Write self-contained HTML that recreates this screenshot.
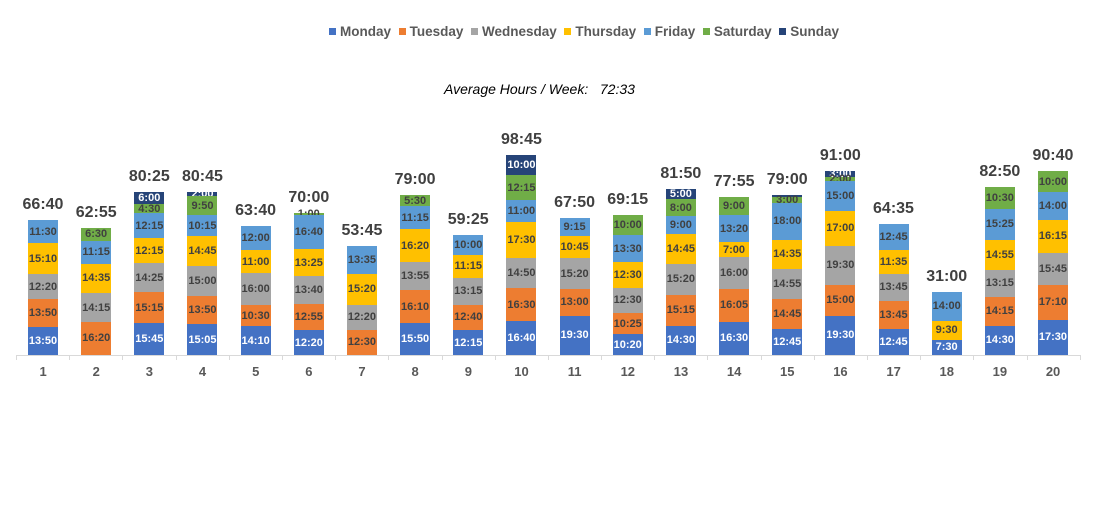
<!DOCTYPE html>
<html><head><meta charset="utf-8"><style>
body{margin:0;width:1094px;height:531px;background:#fff;position:relative;overflow:hidden;font-family:"Liberation Sans",Arial,sans-serif}
#leg{position:absolute;left:329px;top:24px;width:510px;display:flex;justify-content:space-between;font-size:13.5px;font-weight:bold;color:#595959;white-space:nowrap}
#leg span::before{content:"";display:inline-block;width:7px;height:7px;background:var(--c);margin-right:4px;vertical-align:1px}
#sub{position:absolute;left:444px;top:81px;font-size:14px;font-style:italic;color:#000;white-space:pre}
#plot{position:absolute;left:16.5px;width:1063.2px;top:0;height:355px;display:flex}
.c{width:53.16px;position:relative}
.b{position:absolute;left:11.5px;width:30px;bottom:0;display:flex;flex-direction:column-reverse}
.b i{display:flex;align-items:center;justify-content:center;font-style:normal;font-size:11px;font-weight:bold;color:#404040;overflow:visible;white-space:nowrap;line-height:0}
.t{position:absolute;left:-12px;width:78px;text-align:center;font-size:16px;font-weight:bold;color:#404040;bottom:100%;margin-bottom:5px}
.M{background:#4472C4;color:#fff!important}.T{background:#ED7D31}.W{background:#A5A5A5}.H{background:#FFC000}.F{background:#5B9BD5}.S{background:#70AD47}.U{background:#264478;color:#fff!important}
#axis{position:absolute;left:16px;top:355px;width:1064px;height:1px;background:#d9d9d9}
.tk{position:absolute;top:355px;width:1px;height:5px;background:#d9d9d9}
#xl{position:absolute;left:16.5px;top:364px;width:1063.2px;display:flex}
#xl div{width:53.16px;text-align:center;font-size:13px;font-weight:bold;color:#595959}
</style></head><body>
<div id="leg"><span style="--c:#4472C4">Monday</span><span style="--c:#ED7D31">Tuesday</span><span style="--c:#A5A5A5">Wednesday</span><span style="--c:#FFC000">Thursday</span><span style="--c:#5B9BD5">Friday</span><span style="--c:#70AD47">Saturday</span><span style="--c:#264478">Sunday</span></div>
<div id="sub">Average Hours / Week:   72:33</div>
<div id="axis"></div>
<div id="ticks"></div>
<div id="plot" style="--k:0.03375px">
<div class="c"><div class="b"><i class="M" style="height:calc(830*var(--k))">13:50</i><i class="T" style="height:calc(830*var(--k))">13:50</i><i class="W" style="height:calc(740*var(--k))">12:20</i><i class="H" style="height:calc(910*var(--k))">15:10</i><i class="F" style="height:calc(690*var(--k))">11:30</i><div class="t" style="position:static;margin:0 -24px 6px;width:78px">66:40</div></div></div>
<div class="c"><div class="b"><i class="T" style="height:calc(980*var(--k))">16:20</i><i class="W" style="height:calc(855*var(--k))">14:15</i><i class="H" style="height:calc(875*var(--k))">14:35</i><i class="F" style="height:calc(675*var(--k))">11:15</i><i class="S" style="height:calc(390*var(--k))">6:30</i><div class="t" style="position:static;margin:0 -24px 6px;width:78px">62:55</div></div></div>
<div class="c"><div class="b"><i class="M" style="height:calc(945*var(--k))">15:45</i><i class="T" style="height:calc(915*var(--k))">15:15</i><i class="W" style="height:calc(865*var(--k))">14:25</i><i class="H" style="height:calc(735*var(--k))">12:15</i><i class="F" style="height:calc(735*var(--k))">12:15</i><i class="S" style="height:calc(270*var(--k))">4:30</i><i class="U" style="height:calc(360*var(--k))">6:00</i><div class="t" style="position:static;margin:0 -24px 6px;width:78px">80:25</div></div></div>
<div class="c"><div class="b"><i class="M" style="height:calc(905*var(--k))">15:05</i><i class="T" style="height:calc(830*var(--k))">13:50</i><i class="W" style="height:calc(900*var(--k))">15:00</i><i class="H" style="height:calc(885*var(--k))">14:45</i><i class="F" style="height:calc(615*var(--k))">10:15</i><i class="S" style="height:calc(590*var(--k))">9:50</i><i class="U" style="height:calc(120*var(--k))">2:00</i><div class="t" style="position:static;margin:0 -24px 6px;width:78px">80:45</div></div></div>
<div class="c"><div class="b"><i class="M" style="height:calc(850*var(--k))">14:10</i><i class="T" style="height:calc(630*var(--k))">10:30</i><i class="W" style="height:calc(960*var(--k))">16:00</i><i class="H" style="height:calc(660*var(--k))">11:00</i><i class="F" style="height:calc(720*var(--k))">12:00</i><div class="t" style="position:static;margin:0 -24px 6px;width:78px">63:40</div></div></div>
<div class="c"><div class="b"><i class="M" style="height:calc(740*var(--k))">12:20</i><i class="T" style="height:calc(775*var(--k))">12:55</i><i class="W" style="height:calc(820*var(--k))">13:40</i><i class="H" style="height:calc(805*var(--k))">13:25</i><i class="F" style="height:calc(1000*var(--k))">16:40</i><i class="S" style="height:calc(60*var(--k))">1:00</i><div class="t" style="position:static;margin:0 -24px 6px;width:78px">70:00</div></div></div>
<div class="c"><div class="b"><i class="T" style="height:calc(750*var(--k))">12:30</i><i class="W" style="height:calc(740*var(--k))">12:20</i><i class="H" style="height:calc(920*var(--k))">15:20</i><i class="F" style="height:calc(815*var(--k))">13:35</i><div class="t" style="position:static;margin:0 -24px 6px;width:78px">53:45</div></div></div>
<div class="c"><div class="b"><i class="M" style="height:calc(950*var(--k))">15:50</i><i class="T" style="height:calc(970*var(--k))">16:10</i><i class="W" style="height:calc(835*var(--k))">13:55</i><i class="H" style="height:calc(980*var(--k))">16:20</i><i class="F" style="height:calc(675*var(--k))">11:15</i><i class="S" style="height:calc(330*var(--k))">5:30</i><div class="t" style="position:static;margin:0 -24px 6px;width:78px">79:00</div></div></div>
<div class="c"><div class="b"><i class="M" style="height:calc(735*var(--k))">12:15</i><i class="T" style="height:calc(760*var(--k))">12:40</i><i class="W" style="height:calc(795*var(--k))">13:15</i><i class="H" style="height:calc(675*var(--k))">11:15</i><i class="F" style="height:calc(600*var(--k))">10:00</i><div class="t" style="position:static;margin:0 -24px 6px;width:78px">59:25</div></div></div>
<div class="c"><div class="b"><i class="M" style="height:calc(1000*var(--k))">16:40</i><i class="T" style="height:calc(990*var(--k))">16:30</i><i class="W" style="height:calc(890*var(--k))">14:50</i><i class="H" style="height:calc(1050*var(--k))">17:30</i><i class="F" style="height:calc(660*var(--k))">11:00</i><i class="S" style="height:calc(735*var(--k))">12:15</i><i class="U" style="height:calc(600*var(--k))">10:00</i><div class="t" style="position:static;margin:0 -24px 6px;width:78px">98:45</div></div></div>
<div class="c"><div class="b"><i class="M" style="height:calc(1170*var(--k))">19:30</i><i class="T" style="height:calc(780*var(--k))">13:00</i><i class="W" style="height:calc(920*var(--k))">15:20</i><i class="H" style="height:calc(645*var(--k))">10:45</i><i class="F" style="height:calc(555*var(--k))">9:15</i><div class="t" style="position:static;margin:0 -24px 6px;width:78px">67:50</div></div></div>
<div class="c"><div class="b"><i class="M" style="height:calc(620*var(--k))">10:20</i><i class="T" style="height:calc(625*var(--k))">10:25</i><i class="W" style="height:calc(750*var(--k))">12:30</i><i class="H" style="height:calc(750*var(--k))">12:30</i><i class="F" style="height:calc(810*var(--k))">13:30</i><i class="S" style="height:calc(600*var(--k))">10:00</i><div class="t" style="position:static;margin:0 -24px 6px;width:78px">69:15</div></div></div>
<div class="c"><div class="b"><i class="M" style="height:calc(870*var(--k))">14:30</i><i class="T" style="height:calc(915*var(--k))">15:15</i><i class="W" style="height:calc(920*var(--k))">15:20</i><i class="H" style="height:calc(885*var(--k))">14:45</i><i class="F" style="height:calc(540*var(--k))">9:00</i><i class="S" style="height:calc(480*var(--k))">8:00</i><i class="U" style="height:calc(300*var(--k))">5:00</i><div class="t" style="position:static;margin:0 -24px 6px;width:78px">81:50</div></div></div>
<div class="c"><div class="b"><i class="M" style="height:calc(990*var(--k))">16:30</i><i class="T" style="height:calc(965*var(--k))">16:05</i><i class="W" style="height:calc(960*var(--k))">16:00</i><i class="H" style="height:calc(420*var(--k))">7:00</i><i class="F" style="height:calc(800*var(--k))">13:20</i><i class="S" style="height:calc(540*var(--k))">9:00</i><div class="t" style="position:static;margin:0 -24px 6px;width:78px">77:55</div></div></div>
<div class="c"><div class="b"><i class="M" style="height:calc(765*var(--k))">12:45</i><i class="T" style="height:calc(885*var(--k))">14:45</i><i class="W" style="height:calc(895*var(--k))">14:55</i><i class="H" style="height:calc(875*var(--k))">14:35</i><i class="F" style="height:calc(1080*var(--k))">18:00</i><i class="S" style="height:calc(180*var(--k))">3:00</i><i class="U" style="height:calc(60*var(--k))"></i><div class="t" style="position:static;margin:0 -24px 6px;width:78px">79:00</div></div></div>
<div class="c"><div class="b"><i class="M" style="height:calc(1170*var(--k))">19:30</i><i class="T" style="height:calc(900*var(--k))">15:00</i><i class="W" style="height:calc(1170*var(--k))">19:30</i><i class="H" style="height:calc(1020*var(--k))">17:00</i><i class="F" style="height:calc(900*var(--k))">15:00</i><i class="S" style="height:calc(120*var(--k))">2:00</i><i class="U" style="height:calc(180*var(--k))">3:00</i><div class="t" style="position:static;margin:0 -24px 6px;width:78px">91:00</div></div></div>
<div class="c"><div class="b"><i class="M" style="height:calc(765*var(--k))">12:45</i><i class="T" style="height:calc(825*var(--k))">13:45</i><i class="W" style="height:calc(825*var(--k))">13:45</i><i class="H" style="height:calc(695*var(--k))">11:35</i><i class="F" style="height:calc(765*var(--k))">12:45</i><div class="t" style="position:static;margin:0 -24px 6px;width:78px">64:35</div></div></div>
<div class="c"><div class="b"><i class="M" style="height:calc(450*var(--k))">7:30</i><i class="H" style="height:calc(570*var(--k))">9:30</i><i class="F" style="height:calc(840*var(--k))">14:00</i><div class="t" style="position:static;margin:0 -24px 6px;width:78px">31:00</div></div></div>
<div class="c"><div class="b"><i class="M" style="height:calc(870*var(--k))">14:30</i><i class="T" style="height:calc(855*var(--k))">14:15</i><i class="W" style="height:calc(795*var(--k))">13:15</i><i class="H" style="height:calc(895*var(--k))">14:55</i><i class="F" style="height:calc(925*var(--k))">15:25</i><i class="S" style="height:calc(630*var(--k))">10:30</i><div class="t" style="position:static;margin:0 -24px 6px;width:78px">82:50</div></div></div>
<div class="c"><div class="b"><i class="M" style="height:calc(1050*var(--k))">17:30</i><i class="T" style="height:calc(1030*var(--k))">17:10</i><i class="W" style="height:calc(945*var(--k))">15:45</i><i class="H" style="height:calc(975*var(--k))">16:15</i><i class="F" style="height:calc(840*var(--k))">14:00</i><i class="S" style="height:calc(600*var(--k))">10:00</i><div class="t" style="position:static;margin:0 -24px 6px;width:78px">90:40</div></div></div>
</div>
<div class="tk" style="left:16px"></div><div class="tk" style="left:69px"></div><div class="tk" style="left:122px"></div><div class="tk" style="left:176px"></div><div class="tk" style="left:229px"></div><div class="tk" style="left:282px"></div><div class="tk" style="left:335px"></div><div class="tk" style="left:388px"></div><div class="tk" style="left:442px"></div><div class="tk" style="left:495px"></div><div class="tk" style="left:548px"></div><div class="tk" style="left:601px"></div><div class="tk" style="left:654px"></div><div class="tk" style="left:707px"></div><div class="tk" style="left:761px"></div><div class="tk" style="left:814px"></div><div class="tk" style="left:867px"></div><div class="tk" style="left:920px"></div><div class="tk" style="left:973px"></div><div class="tk" style="left:1027px"></div><div class="tk" style="left:1080px"></div>
<div id="xl"><div>1</div><div>2</div><div>3</div><div>4</div><div>5</div><div>6</div><div>7</div><div>8</div><div>9</div><div>10</div><div>11</div><div>12</div><div>13</div><div>14</div><div>15</div><div>16</div><div>17</div><div>18</div><div>19</div><div>20</div></div>
</body></html>
